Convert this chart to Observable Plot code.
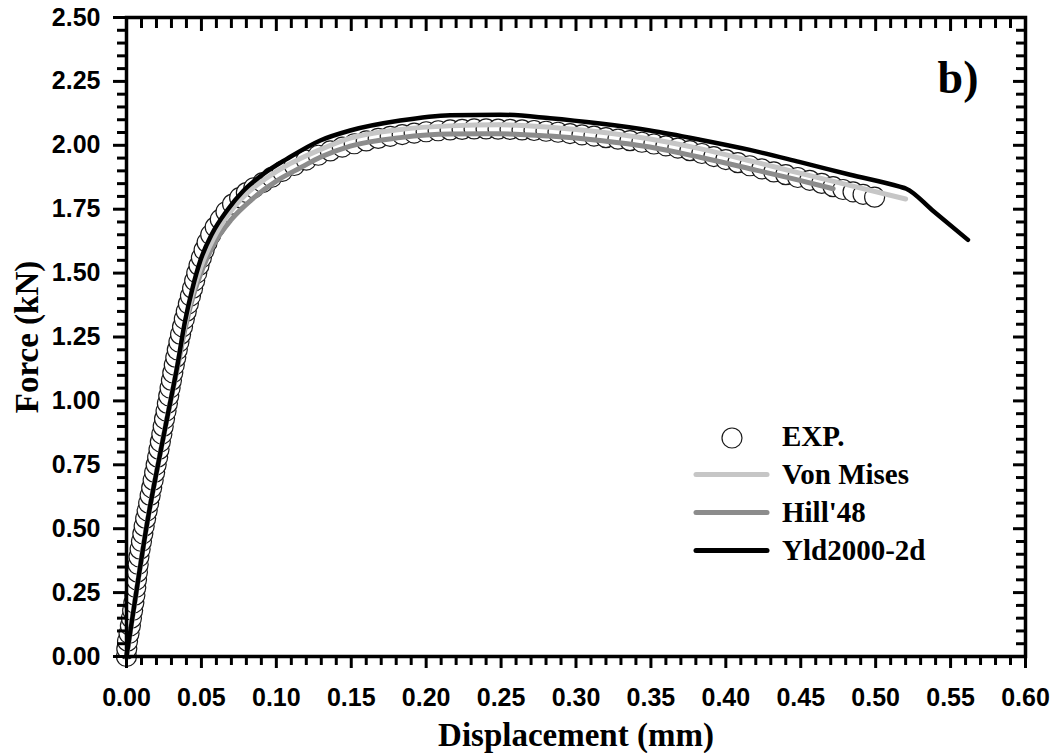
<!DOCTYPE html>
<html><head><meta charset="utf-8">
<script src="https://cdn.jsdelivr.net/npm/d3@7"></script>
<script src="https://cdn.jsdelivr.net/npm/@observablehq/plot@0.6"></script>
<style>
body{margin:0;background:#fff;}
#wrap{position:relative;width:1061px;height:753px;overflow:hidden;}
#legend{position:absolute;left:0;top:0;pointer-events:none;}
</style></head><body>
<div id="wrap"></div>
<script>
// ---- data ----
const expX = [0, 0.0002, 0.0007, 0.0017, 0.0026, 0.0033, 0.0041, 0.0049, 0.0056, 0.0062,
  0.0067, 0.0073, 0.0078, 0.0083, 0.0091, 0.0100, 0.0109, 0.0118, 0.0128, 0.0138,
  0.0148, 0.0158, 0.0168, 0.0178, 0.0188, 0.0198, 0.0208, 0.0217, 0.0226, 0.0236,
  0.0245, 0.0254, 0.0264, 0.0273, 0.0282, 0.0291, 0.0300, 0.0309, 0.0319, 0.0329,
  0.0339, 0.0350, 0.0361, 0.0374, 0.0386, 0.0399, 0.0413, 0.0427, 0.0441, 0.0455,
  0.0469, 0.0484, 0.0500, 0.0518, 0.0538, 0.0562, 0.0592, 0.0626, 0.0664, 0.0708, 0.0755,
  0.080, 0.085, 0.091, 0.097, 0.104, 0.112, 0.120, 0.128, 0.136, 0.144,
  0.152, 0.160, 0.168, 0.176, 0.184, 0.192, 0.200, 0.208, 0.216, 0.224,
  0.232, 0.240, 0.248, 0.256, 0.264, 0.272, 0.280, 0.288, 0.296, 0.304,
  0.312, 0.320, 0.328, 0.336, 0.344, 0.352, 0.360, 0.368, 0.376, 0.384,
  0.392, 0.400, 0.408, 0.416, 0.424, 0.432, 0.440, 0.448, 0.456, 0.464,
  0.4716, 0.4782, 0.4849, 0.4916, 0.4993];
const expF = [0, 0.03, 0.06, 0.09, 0.12, 0.15, 0.18, 0.21, 0.24, 0.27,
  0.30, 0.33, 0.36, 0.39, 0.42, 0.45, 0.48, 0.51, 0.54, 0.57,
  0.60, 0.63, 0.66, 0.69, 0.72, 0.75, 0.78, 0.81, 0.84, 0.87,
  0.90, 0.93, 0.96, 0.99, 1.02, 1.05, 1.08, 1.11, 1.14, 1.17,
  1.20, 1.23, 1.26, 1.29, 1.32, 1.35, 1.38, 1.41, 1.44, 1.47,
  1.50, 1.53, 1.56, 1.59, 1.62, 1.65, 1.68, 1.71, 1.74, 1.77, 1.795,
  1.815, 1.834, 1.854, 1.875, 1.898, 1.921, 1.942, 1.961, 1.978, 1.993,
  2.006, 2.017, 2.027, 2.035, 2.042, 2.048, 2.053, 2.057, 2.060, 2.062,
  2.064, 2.064, 2.063, 2.062, 2.060, 2.058, 2.055, 2.051, 2.046, 2.041,
  2.036, 2.030, 2.024, 2.018, 2.012, 2.005, 1.998, 1.989, 1.979, 1.968,
  1.956, 1.944, 1.932, 1.920, 1.908, 1.896, 1.885, 1.874, 1.863, 1.851,
  1.838, 1.827, 1.818, 1.808, 1.797];

const vmX = [0, 0.007, 0.014, 0.021, 0.027, 0.034, 0.039, 0.044, 0.05, 0.058, 0.068, 0.08, 0.093, 0.108, 0.116, 0.13,
  0.1493, 0.1827, 0.216, 0.2493, 0.2827, 0.316, 0.3493, 0.3827, 0.42, 0.45, 0.48, 0.52];
const vmF = [0, 0.27, 0.53, 0.75, 0.93, 1.14, 1.30, 1.42, 1.53, 1.635, 1.73, 1.81, 1.87, 1.925, 1.948, 1.985,
  2.028, 2.062, 2.076, 2.080, 2.071, 2.052, 2.025, 1.987, 1.934, 1.890, 1.847, 1.790];

const hillX = [0, 0.007, 0.014, 0.021, 0.027, 0.034, 0.039, 0.045, 0.051, 0.059, 0.07, 0.083, 0.1, 0.116, 0.13,
  0.1493, 0.1827, 0.216, 0.2493, 0.2827, 0.316, 0.3493, 0.3827, 0.42, 0.45, 0.4716];
const hillF = [0, 0.27, 0.53, 0.75, 0.93, 1.13, 1.28, 1.42, 1.52, 1.62, 1.71, 1.785, 1.86, 1.912, 1.955,
  1.997, 2.030, 2.044, 2.045, 2.036, 2.019, 1.993, 1.953, 1.903, 1.862, 1.830];

const yldX = [0, 0.007, 0.014, 0.021, 0.027, 0.034, 0.039, 0.044, 0.0493, 0.0571, 0.0671, 0.0782, 0.0916, 0.1071, 0.1293,
  0.1493, 0.1827, 0.216, 0.2493, 0.2827, 0.316, 0.3493, 0.3827, 0.416, 0.449, 0.483, 0.516, 0.5204, 0.538, 0.5616];
const yldF = [0, 0.27, 0.53, 0.75, 0.93, 1.14, 1.31, 1.44, 1.549, 1.654, 1.745, 1.823, 1.889, 1.947, 2.019,
  2.058, 2.097, 2.118, 2.120, 2.106, 2.085, 2.058, 2.022, 1.982, 1.935, 1.885, 1.838, 1.830, 1.745, 1.630];

const xMajor = [0, 0.05, 0.10, 0.15, 0.20, 0.25, 0.30, 0.35, 0.40, 0.45, 0.50, 0.55, 0.60];
const yMajor = [0, 0.25, 0.50, 0.75, 1.00, 1.25, 1.50, 1.75, 2.00, 2.25, 2.50];
const seriesNames = ["EXP.", "Von Mises", "Hill'48", "Yld2000-2d"];
const xTitle = "Displacement (mm)";
const yTitle = "Force (kN)";
const panelTag = "b)";

// ---- build ----
const zip = (xs, ys) => xs.slice(0, Math.min(xs.length, ys.length)).map((x, i) => ({x, f: ys[i]}));
const expRows = zip(expX, expF);
const vmRows = zip(vmX, vmF);
const hillRows = zip(hillX, hillF);
const yldRows = zip(yldX, yldF);

const near = (v, arr) => arr.some(a => Math.abs(a - v) < 1e-6);
const xMinor = d3.range(0, 61).map(i => i / 100).filter(v => !near(v, xMajor));
const yMinor = d3.range(0, 51).map(i => i / 20).filter(v => !near(v, yMajor));
const fmt = d3.format(".2f");
const blank = () => "";
const serif = "'Liberation Serif', 'Times New Roman', serif";
const TW = 3;

const chart = Plot.plot({
  width: 1061, height: 753,
  marginTop: 17, marginRight: 36, marginBottom: 97, marginLeft: 126,
  x: {domain: [0, 0.6], label: null},
  y: {domain: [0, 2.5], label: null},
  style: {fontFamily: "'Liberation Sans', Arial, sans-serif", fontSize: "25px", fontWeight: "bold", background: "white", color: "black"},
  marks: [
    Plot.dot(expRows, {x: "x", y: "f", r: 10, fill: "white", stroke: "#1a1a1a", strokeWidth: 1.2}),
    Plot.line(hillRows, {x: "x", y: "f", stroke: "#8c8c8c", strokeWidth: 5, curve: "monotone-x", strokeLinecap: "round"}),
    Plot.line(vmRows, {x: "x", y: "f", stroke: "#c6c6c6", strokeWidth: 5, curve: "monotone-x", strokeLinecap: "round"}),
    Plot.line(yldRows, {x: "x", y: "f", stroke: "black", strokeWidth: 4.5, curve: "monotone-x", strokeLinecap: "round"}),
    Plot.frame({stroke: "black", strokeWidth: 3.5}),
    // bottom axis
    Plot.axisX(xMajor, {anchor: "bottom", tickSize: 12, tickPadding: 20, strokeWidth: TW, tickFormat: fmt, label: null}),
    Plot.axisX(xMinor, {anchor: "bottom", tickSize: 9, strokeWidth: TW, tickFormat: blank, label: null}),
    // top axis (inward)
    Plot.axisX(xMajor, {anchor: "top", tickSize: 13, dy: 13, strokeWidth: TW, tickFormat: blank, label: null}),
    Plot.axisX(xMinor, {anchor: "top", tickSize: 10, dy: 10, strokeWidth: TW, tickFormat: blank, label: null}),
    // left axis
    Plot.axisY(yMajor, {anchor: "left", tickSize: 13, tickPadding: 13, strokeWidth: TW, tickFormat: fmt, label: null}),
    Plot.axisY(yMinor, {anchor: "left", tickSize: 9, strokeWidth: TW, tickFormat: blank, label: null}),
    // right axis (inward)
    Plot.axisY(yMajor, {anchor: "right", tickSize: 13, dx: -13, strokeWidth: TW, tickFormat: blank, label: null}),
    Plot.axisY(yMinor, {anchor: "right", tickSize: 10, dx: -10, strokeWidth: TW, tickFormat: blank, label: null}),
    // titles
    Plot.text([xTitle], {text: d => d, frameAnchor: "bottom", dy: 89, lineAnchor: "bottom", textAnchor: "middle",
      fontFamily: serif, fontSize: 33, fontWeight: "bold", fill: "black"}),
    Plot.text([yTitle], {text: d => d, frameAnchor: "left", dx: -99, rotate: -90, textAnchor: "middle", lineAnchor: "middle",
      fontFamily: serif, fontSize: 33, fontWeight: "bold", fill: "black"}),
    Plot.text([panelTag], {text: d => d, frameAnchor: "top-right", dx: -47, dy: 75, lineAnchor: "bottom", textAnchor: "end",
      fontFamily: serif, fontSize: 46, fontWeight: "bold", fill: "black"})
  ]
});
const wrap = document.getElementById("wrap");
wrap.appendChild(chart);

// ---- legend overlay ----
const ns = "http://www.w3.org/2000/svg";
const leg = document.createElementNS(ns, "svg");
leg.setAttribute("id", "legend");
leg.setAttribute("width", 1061);
leg.setAttribute("height", 753);
const styles = [
  {type: "dot"},
  {type: "line", stroke: "#c6c6c6", w: 5},
  {type: "line", stroke: "#8c8c8c", w: 5},
  {type: "line", stroke: "black", w: 5}
];
const lx0 = 696, lx1 = 767, ltx = 782, ly0 = 446, lstep = 38;
seriesNames.forEach((name, i) => {
  const base = ly0 + i * lstep;
  const s = styles[i];
  if (s.type === "dot") {
    const c = document.createElementNS(ns, "circle");
    c.setAttribute("cx", (lx0 + lx1) / 2 + 0.5);
    c.setAttribute("cy", base - 8);
    c.setAttribute("r", 10);
    c.setAttribute("fill", "white");
    c.setAttribute("stroke", "#1a1a1a");
    c.setAttribute("stroke-width", 1.2);
    leg.appendChild(c);
  } else {
    const l = document.createElementNS(ns, "line");
    l.setAttribute("x1", lx0); l.setAttribute("x2", lx1);
    l.setAttribute("y1", base - 9.5); l.setAttribute("y2", base - 9.5);
    l.setAttribute("stroke", s.stroke);
    l.setAttribute("stroke-width", s.w);
    l.setAttribute("stroke-linecap", "round");
    leg.appendChild(l);
  }
  const t = document.createElementNS(ns, "text");
  t.setAttribute("x", ltx);
  t.setAttribute("y", base);
  t.setAttribute("font-family", serif);
  t.setAttribute("font-size", 29);
  t.setAttribute("font-weight", "bold");
  t.textContent = name;
  leg.appendChild(t);
});
wrap.appendChild(leg);
</script>
</body></html>
